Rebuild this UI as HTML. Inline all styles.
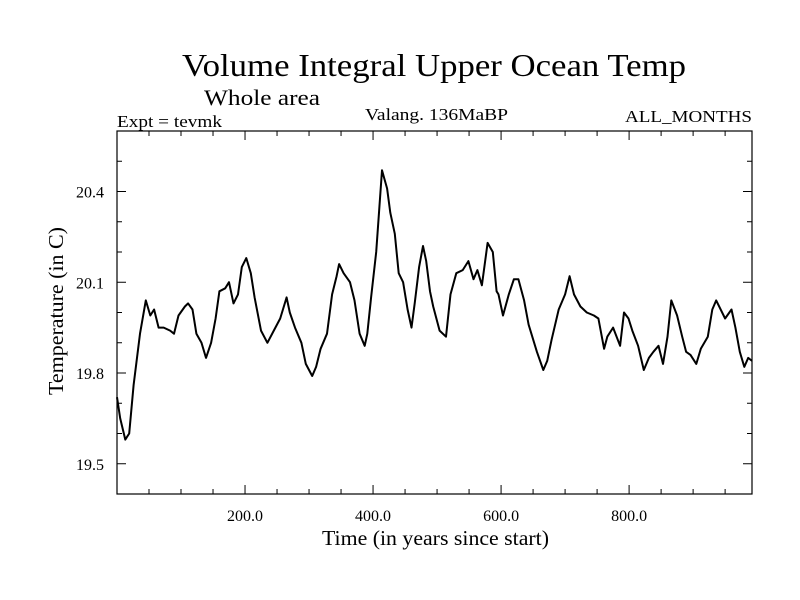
<!DOCTYPE html>
<html><head><meta charset="utf-8"><style>
html,body{margin:0;padding:0;background:#fff;}
svg{display:block;font-family:"Liberation Serif",serif;}
</style></head><body>
<svg id="chart" width="800" height="600" viewBox="0 0 800 600">
<text x="182" y="76" font-size="32" textLength="504" lengthAdjust="spacingAndGlyphs">Volume Integral Upper Ocean Temp</text>
<text x="204" y="105" font-size="22" textLength="116" lengthAdjust="spacingAndGlyphs">Whole area</text>
<text x="117" y="127" font-size="17" textLength="105" lengthAdjust="spacingAndGlyphs">Expt = tevmk</text>
<text x="365" y="120" font-size="17" textLength="143" lengthAdjust="spacingAndGlyphs">Valang. 136MaBP</text>
<text x="625" y="122" font-size="17" textLength="127" lengthAdjust="spacingAndGlyphs">ALL_MONTHS</text>
<text x="322" y="545" font-size="21" textLength="227" lengthAdjust="spacingAndGlyphs">Time (in years since start)</text>
<text transform="translate(63,395) rotate(-90)" font-size="21" textLength="168" lengthAdjust="spacingAndGlyphs">Temperature (in C)</text>
<g id="axes"></g>
<g id="series"></g>
</svg>
<script>
const years = [0,5,13,19,26,36,45,52,58,65,73,83,89,96,106,111,118,124,132,139,147,154,160,169,175,182,189,195,202,209,215,225,235,245,255,265,270,278,288,295,305,311,318,328,336,343,347,354,364,371,379,387,391,397,405,414,422,427,434,440,447,454,460,465,472,478,483,489,494,504,514,521,530,540,549,557,563,570,579,587,593,596,603,612,620,627,636,643,656,666,672,679,690,700,707,714,724,734,745,752,761,766,775,786,792,799,805,814,823,831,838,846,853,860,866,875,883,889,896,905,912,923,930,936,950,960,966,973,980,986,992];
const temps = [19.72,19.65,19.58,19.60,19.76,19.93,20.04,19.99,20.01,19.95,19.95,19.94,19.93,19.99,20.02,20.03,20.01,19.93,19.90,19.85,19.90,19.98,20.07,20.08,20.10,20.03,20.06,20.15,20.18,20.13,20.05,19.94,19.90,19.94,19.98,20.05,20.00,19.95,19.90,19.83,19.79,19.82,19.88,19.93,20.06,20.12,20.16,20.13,20.10,20.04,19.93,19.89,19.93,20.05,20.20,20.47,20.41,20.33,20.26,20.13,20.10,20.01,19.95,20.03,20.15,20.22,20.17,20.07,20.02,19.94,19.92,20.06,20.13,20.14,20.17,20.11,20.14,20.09,20.23,20.20,20.07,20.06,19.99,20.06,20.11,20.11,20.04,19.96,19.87,19.81,19.84,19.91,20.01,20.06,20.12,20.06,20.02,20.00,19.99,19.98,19.88,19.92,19.95,19.89,20.00,19.98,19.94,19.89,19.81,19.85,19.87,19.89,19.83,19.92,20.04,19.99,19.92,19.87,19.86,19.83,19.88,19.92,20.01,20.04,19.98,20.01,19.95,19.87,19.82,19.85,19.84];
const xTicks = [200,400,600,800];
const xTickLabels = ["200.0","400.0","600.0","800.0"];
const yTicks = [19.5,19.8,20.1,20.4];
const yTickLabels = ["19.5","19.8","20.1","20.4"];

const L=117,R=752,T=131,B=494;
const xMin=0,xMax=992,yMin=19.4,yMax=20.6;
const sx=v=>L+(v-xMin)/(xMax-xMin)*(R-L);
const sy=v=>B-(v-yMin)/(yMax-yMin)*(B-T);
const NS="http://www.w3.org/2000/svg";
const axes=document.getElementById('axes');
function mk(tag,attrs,parent){const e=document.createElementNS(NS,tag);for(const k in attrs)e.setAttribute(k,attrs[k]);parent.appendChild(e);return e;}

const frame=mk('rect',{x:L,y:T,width:R-L,height:B-T,fill:'none',stroke:'#000','stroke-width':1.2},axes);



for(let v=50;v<xMax;v+=50){
  const major=v%200===0, len=major?9:5, x=sx(v);
  const t1=mk('line',{x1:x,y1:B,x2:x,y2:B-len,stroke:'#000','stroke-width':1},axes);
  
  
  const t2=mk('line',{x1:x,y1:T,x2:x,y2:T+len,stroke:'#000','stroke-width':1},axes);
  
  
}
for(let i=0;i<12;i++){
  const v=19.4+i*0.1; if(v<=yMin+1e-6) continue;
  const major=yTicks.some(t=>Math.abs(t-v)<1e-6), len=major?9:5, y=sy(v);
  const t1=mk('line',{x1:L,y1:y,x2:L+len,y2:y,stroke:'#000','stroke-width':1},axes);
  
  
  const t2=mk('line',{x1:R,y1:y,x2:R-len,y2:y,stroke:'#000','stroke-width':1},axes);
  
  
}
xTicks.forEach((v,i)=>{
  const t=mk('text',{x:sx(v),y:521,'font-size':16,'text-anchor':'middle'},axes);
  t.textContent=xTickLabels[i];
  
  
});
yTicks.forEach((v,i)=>{
  const t=mk('text',{x:104,y:sy(v)+6,'font-size':16,'text-anchor':'end'},axes);
  t.textContent=yTickLabels[i];
  
  
});
const pts=years.map((yr,i)=>sx(yr).toFixed(1)+','+sy(temps[i]).toFixed(1)).join(' ');
const line=mk('polyline',{points:pts,fill:'none',stroke:'#000','stroke-width':2,'stroke-linejoin':'round'},document.getElementById('series'));


</script>
</body></html>
